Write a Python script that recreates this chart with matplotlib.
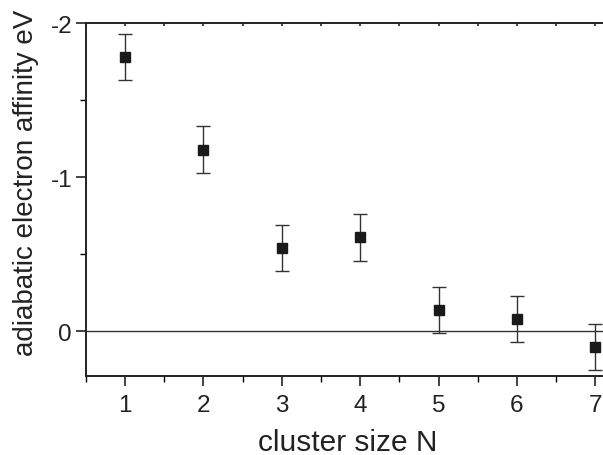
import matplotlib.pyplot as plt
from matplotlib.ticker import MultipleLocator

plt.rcParams['font.family'] = ['Liberation Sans', 'DejaVu Sans']
plt.rcParams['axes.unicode_minus'] = False

# data
cluster_size = [1, 2, 3, 4, 5, 6, 7]
affinity = [-1.78, -1.18, -0.54, -0.61, -0.14, -0.08, 0.10]
affinity_err = [0.15, 0.15, 0.15, 0.15, 0.15, 0.15, 0.15]

fig = plt.figure(figsize=(6.03, 4.56), dpi=100)
# axes runs a bit past the right edge, like in the original crop
ax = fig.add_axes([0.1426, 0.173, 1.052 - 0.1426, 0.947 - 0.173])

ax.axhline(0, color='#333333', linewidth=1.0, zorder=1)
ax.errorbar(cluster_size, affinity, yerr=affinity_err, fmt='s', color='#1a1a1a',
            markersize=6.5, ecolor='#333333', elinewidth=1.0, capsize=5, capthick=1.0,
            zorder=3)

ax.set_xlim(0.5, 7.5)
ax.set_ylim(0.29, -2.0)  # inverted axis
ax.xaxis.set_major_locator(MultipleLocator(1))
ax.xaxis.set_minor_locator(MultipleLocator(0.5))
ax.yaxis.set_major_locator(MultipleLocator(1))
ax.yaxis.set_minor_locator(MultipleLocator(0.5))

for s in ax.spines.values():
    s.set_linewidth(1.4)
    s.set_color('#222222')
ax.spines['right'].set_visible(False)

ax.tick_params(which='major', direction='out', length=7, width=1.2, labelsize=17.5,
               colors='#222222', pad=3)
ax.tick_params(which='minor', direction='out', length=4, width=1.0)
ax.tick_params(axis='x', which='major', pad=6)

# tiny ticks on the top spine (separate axis so they point inward)
top = ax.secondary_xaxis('top')
top.xaxis.set_major_locator(MultipleLocator(0.5))
top.tick_params(direction='in', length=2, width=1.2, labeltop=False, colors='#222222')
top.spines['top'].set_visible(False)

ax.set_xlabel('cluster size N', fontsize=21.5, color='#222222', va='top')
ax.xaxis.set_label_coords(0.478, -0.148)
ax.set_ylabel('adiabatic electron affinity eV', fontsize=20, color='#222222')
ax.yaxis.set_label_coords(-0.085, 0.55)

fig.savefig('out.png', dpi=100)
